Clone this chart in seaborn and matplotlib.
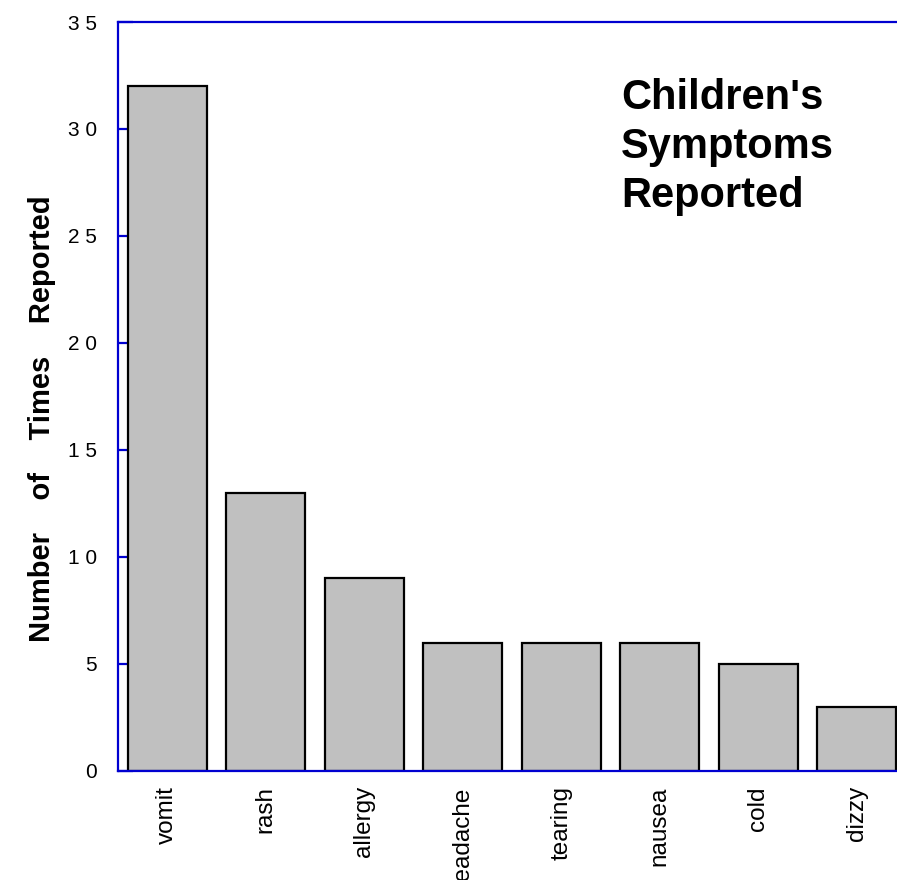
import matplotlib
matplotlib.use('Agg')
import matplotlib.pyplot as plt
import seaborn as sns
import pandas as pd

symptoms = ['vomit', 'rash', 'allergy', 'headache', 'tearing', 'nausea', 'cold', 'dizzy']
counts = [32, 13, 9, 6, 6, 6, 5, 3]
y_ticks = [0, 5, 10, 15, 20, 25, 30, 35]

sns.set_style('white')
plt.rcParams['font.family'] = ['Liberation Sans', 'DejaVu Sans']
plt.rcParams['text.color'] = 'black'
plt.rcParams['xtick.labelcolor'] = 'black'
plt.rcParams['ytick.labelcolor'] = 'black'

blue = '#0000d0'
df = pd.DataFrame({'symptom': symptoms, 'count': counts})

fig = plt.figure(figsize=(8.97, 8.8), dpi=100)
ax = fig.add_axes([0.1316, 0.1239, 0.8785, 0.8511])

sns.barplot(data=df, x='symptom', y='count', color='#c0c0c0', saturation=1,
            edgecolor='black', linewidth=1.6, width=0.8, ax=ax)

ax.set_xlim(-0.5, 7.5)
ax.set_ylim(0, 35)
ax.set_yticks(y_ticks)
# spaced digits like the original
ax.set_yticklabels([' '.join(str(v)) for v in y_ticks], fontsize=15)
ax.tick_params(axis='y', direction='in', length=10.5, width=1.6, color=blue, pad=15, left=True)
ax.tick_params(axis='x', length=0, pad=11, labelsize=17.5, labelrotation=90)
for lab in ax.get_xticklabels():
    lab.set_va('top')

for side in ['left', 'top', 'bottom', 'right']:
    ax.spines[side].set_color(blue)
    ax.spines[side].set_linewidth(1.6)

ax.set_xlabel('')
ax.set_ylabel('')
fig.text(0.047, 1 - 419 / 880, 'Number    of    Times    Reported', rotation=90,
         fontsize=21, fontweight='bold', ha='center', va='center')

ax.text(0.638, 0.925, "Children's\nSymptoms\nReported", transform=ax.transAxes,
        fontsize=30, fontweight='bold', ha='left', va='top', linespacing=1.28)

fig.savefig('out.png', dpi=100)
